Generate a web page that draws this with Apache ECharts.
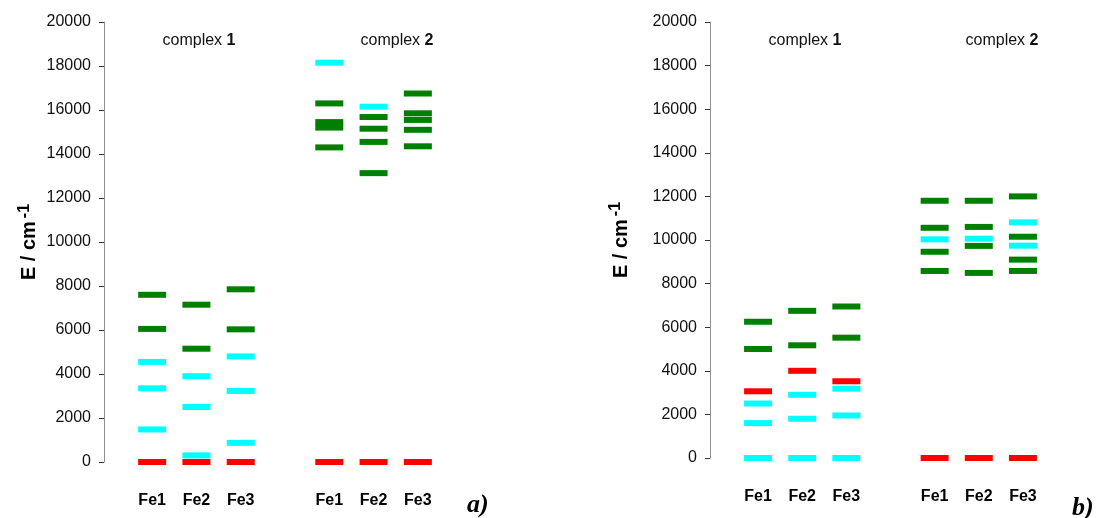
<!DOCTYPE html>
<html>
<head>
<meta charset="utf-8">
<script src="https://cdn.jsdelivr.net/npm/echarts@6/dist/echarts.min.js"></script>
<style>
html,body{margin:0;padding:0;background:#fff;}
#chart{width:1097px;height:518px;}
</style>
</head>
<body>
<div id="chart"></div>
<script>
// Columns: complex 1 Fe1..Fe3, separator, complex 2 Fe1..Fe3
const categories = ['Fe1', 'Fe2', 'Fe3', '', 'Fe1', 'Fe2', 'Fe3'];
const complexTitles = ['1', '2'];

// panel a) energy levels (cm-1), one list per column
const aGreen = [[7600, 6050], [7150, 5150], [7850, 6030], [], [16300, 15450, 15200, 14300], [15680, 15150, 14550, 13130], [16750, 15850, 15550, 15100, 14350]];
const aCyan  = [[4550, 3350, 1480], [3900, 2500, 300], [4800, 3230, 870], [], [18150], [16150], []];
const aRed   = [[0], [0], [0], [], [0], [0], [0]];

// panel b) energy levels (cm-1)
const bGreen = [[6250, 5000], [6750, 5170], [6950, 5520], [], [11800, 10560, 9460, 8580], [11800, 10600, 9730, 8490], [12000, 10150, 9100, 8580]];
const bCyan  = [[2500, 1600, 0], [2900, 1800, 0], [3180, 1950, 0], [], [10030], [10060], [10810, 9740]];
const bRed   = [[3060], [4000], [3520], [], [0], [0], [0]];

const COLORS = { green: '#007f00', cyan: '#00ffff', red: '#ff0000' };

function toPoints(cols) {
  const pts = [];
  cols.forEach((vals, i) => vals.forEach(v => pts.push([i, v])));
  return pts;
}

function levelSeries(cols, color, idx) {
  return {
    type: 'scatter',
    xAxisIndex: idx, yAxisIndex: idx,
    symbol: 'rect',
    symbolSize: [28, 6],
    clip: false,
    silent: true,
    itemStyle: { color: color, opacity: 1 },
    data: toPoints(cols)
  };
}

function yAxisDef(gridIndex, nameGap) {
  return {
    type: 'value', gridIndex: gridIndex,
    min: 0, max: 20000, interval: 2000,
    offset: 26,
    splitLine: { show: false },
    axisLine: { show: true, lineStyle: { color: '#8f8f8f', width: 1 } },
    axisTick: { show: true, inside: false, length: 5, lineStyle: { color: '#333' } },
    axisLabel: { margin: 13, color: '#111', fontSize: 16, fontFamily: '"Liberation Sans", Arial, sans-serif',
      formatter: v => String(v) },
    name: 'E / cm{sup|-1}',
    nameLocation: 'middle',
    nameRotate: 90,
    nameGap: nameGap,
    nameTextStyle: {
      fontFamily: '"Liberation Sans", Arial, sans-serif',
      fontWeight: 'bold', fontSize: 20, color: '#000', lineHeight: 26,
      rich: { sup: { fontSize: 16, fontWeight: 'bold', verticalAlign: 'top', lineHeight: 16, color: '#000', padding: [0, 0, 0, 3] } }
    }
  };
}

function xAxisDef(gridIndex) {
  return {
    type: 'category', gridIndex: gridIndex, data: categories,
    boundaryGap: true,
    axisLine: { show: false }, axisTick: { show: false },
    splitLine: { show: false },
    axisLabel: { interval: 0, margin: 31, color: '#000', fontSize: 16, fontWeight: 'bold',
      fontFamily: '"Liberation Sans", Arial, sans-serif' }
  };
}

function titleText(x, y, num) {
  return {
    type: 'text', x: x, y: y,
    style: {
      text: '{n|complex }{b|' + num + '}',
      align: 'center', verticalAlign: 'middle',
      rich: {
        n: { fontSize: 16, fontFamily: '"Liberation Sans", Arial, sans-serif', fill: '#111' },
        b: { fontSize: 16, fontWeight: 'bold', fontFamily: '"Liberation Sans", Arial, sans-serif', fill: '#111' }
      }
    }
  };
}

const chart = echarts.init(document.getElementById('chart'), null, { renderer: 'canvas' });
chart.setOption({
  backgroundColor: '#fff',
  animation: false,
  grid: [
    { left: 130, top: 22, width: 310, height: 440 },
    { left: 736, top: 22, width: 309, height: 436 }
  ],
  xAxis: [xAxisDef(0), xAxisDef(1)],
  yAxis: [yAxisDef(0, 61), yAxisDef(1, 76)],
  series: [
    levelSeries(aGreen, COLORS.green, 0),
    levelSeries(aCyan, COLORS.cyan, 0),
    levelSeries(aRed, COLORS.red, 0),
    levelSeries(bGreen, COLORS.green, 1),
    levelSeries(bCyan, COLORS.cyan, 1),
    levelSeries(bRed, COLORS.red, 1)
  ],
  graphic: [
    titleText(199, 41, complexTitles[0]),
    titleText(397, 41, complexTitles[1]),
    titleText(805, 41, complexTitles[0]),
    titleText(1002, 41, complexTitles[1]),
    { type: 'text', x: 467, y: 505, style: { text: 'a)', verticalAlign: 'middle', font: 'italic bold 26px "Liberation Serif", "Times New Roman", serif', fill: '#000' } },
    { type: 'text', x: 1072, y: 508, style: { text: 'b)', verticalAlign: 'middle', font: 'italic bold 26px "Liberation Serif", "Times New Roman", serif', fill: '#000' } }
  ]
});
</script>
</body>
</html>
